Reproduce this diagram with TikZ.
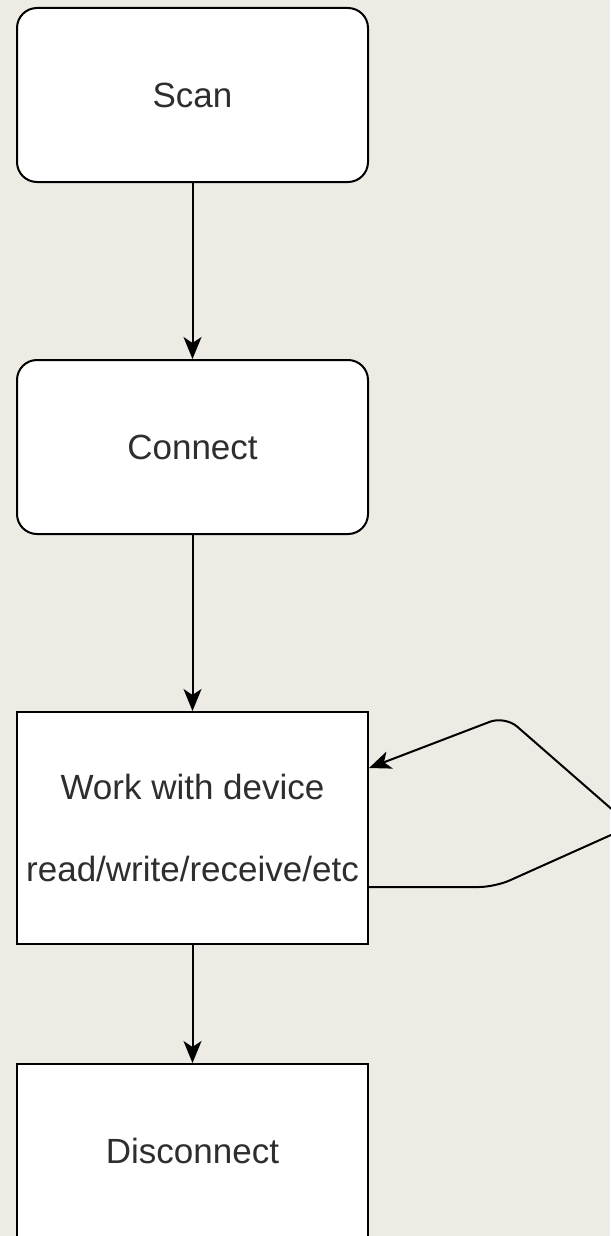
\documentclass[tikz,border=0pt]{standalone}
\usepackage{fontspec}
\setmainfont{Liberation Sans}
\usetikzlibrary{arrows.meta,calc}
\definecolor{paper}{HTML}{EEEBE4}
\definecolor{ink}{HTML}{2E2E2E}
\tikzset{
  box/.style={draw=black,line width=1pt,fill=white,minimum width=175.5pt,minimum height=87pt,inner sep=0pt,text=ink,font=\fontsize{17.5}{20}\selectfont},
  roundbox/.style={box,rounded corners=10pt},
  flow/.style={-{Stealth[length=11pt,width=9pt,inset=3pt]},line width=1pt},
}
\begin{document}
\begin{tikzpicture}[x=0.5pt,y=-0.5pt]
  % Background
  \fill[paper] (0,0) rectangle (610,1236);
  \useasboundingbox (0,0) rectangle (610,1236);
  % Steps
  \node[roundbox] (scan) at (192.5,95) {Scan};
  \node[roundbox] (connect) at (192.5,447) {Connect};
  \node[box,minimum height=116pt,align=center] (work) at (192.5,828) {Work with device\\[21pt]read/write/receive/etc};
  \node[box] (disconnect) at (192.5,1151) {Disconnect};
  % Flow
  \draw[flow] (scan) -- (connect);
  \draw[flow] (connect) -- (work);
  \draw[flow] (work) -- (disconnect);
  % Loop back
  \coordinate (loopa) at (495,887);
  \coordinate (loopb) at (631,826);
  \coordinate (loopc) at (505,716);
  \draw[flow,rounded corners=8pt] ($(work.east)+(0,59)$) -- (loopa) -- (loopb) -- (loopc) -- ($(work.east)+(0,-60)$);
\end{tikzpicture}
\end{document}
